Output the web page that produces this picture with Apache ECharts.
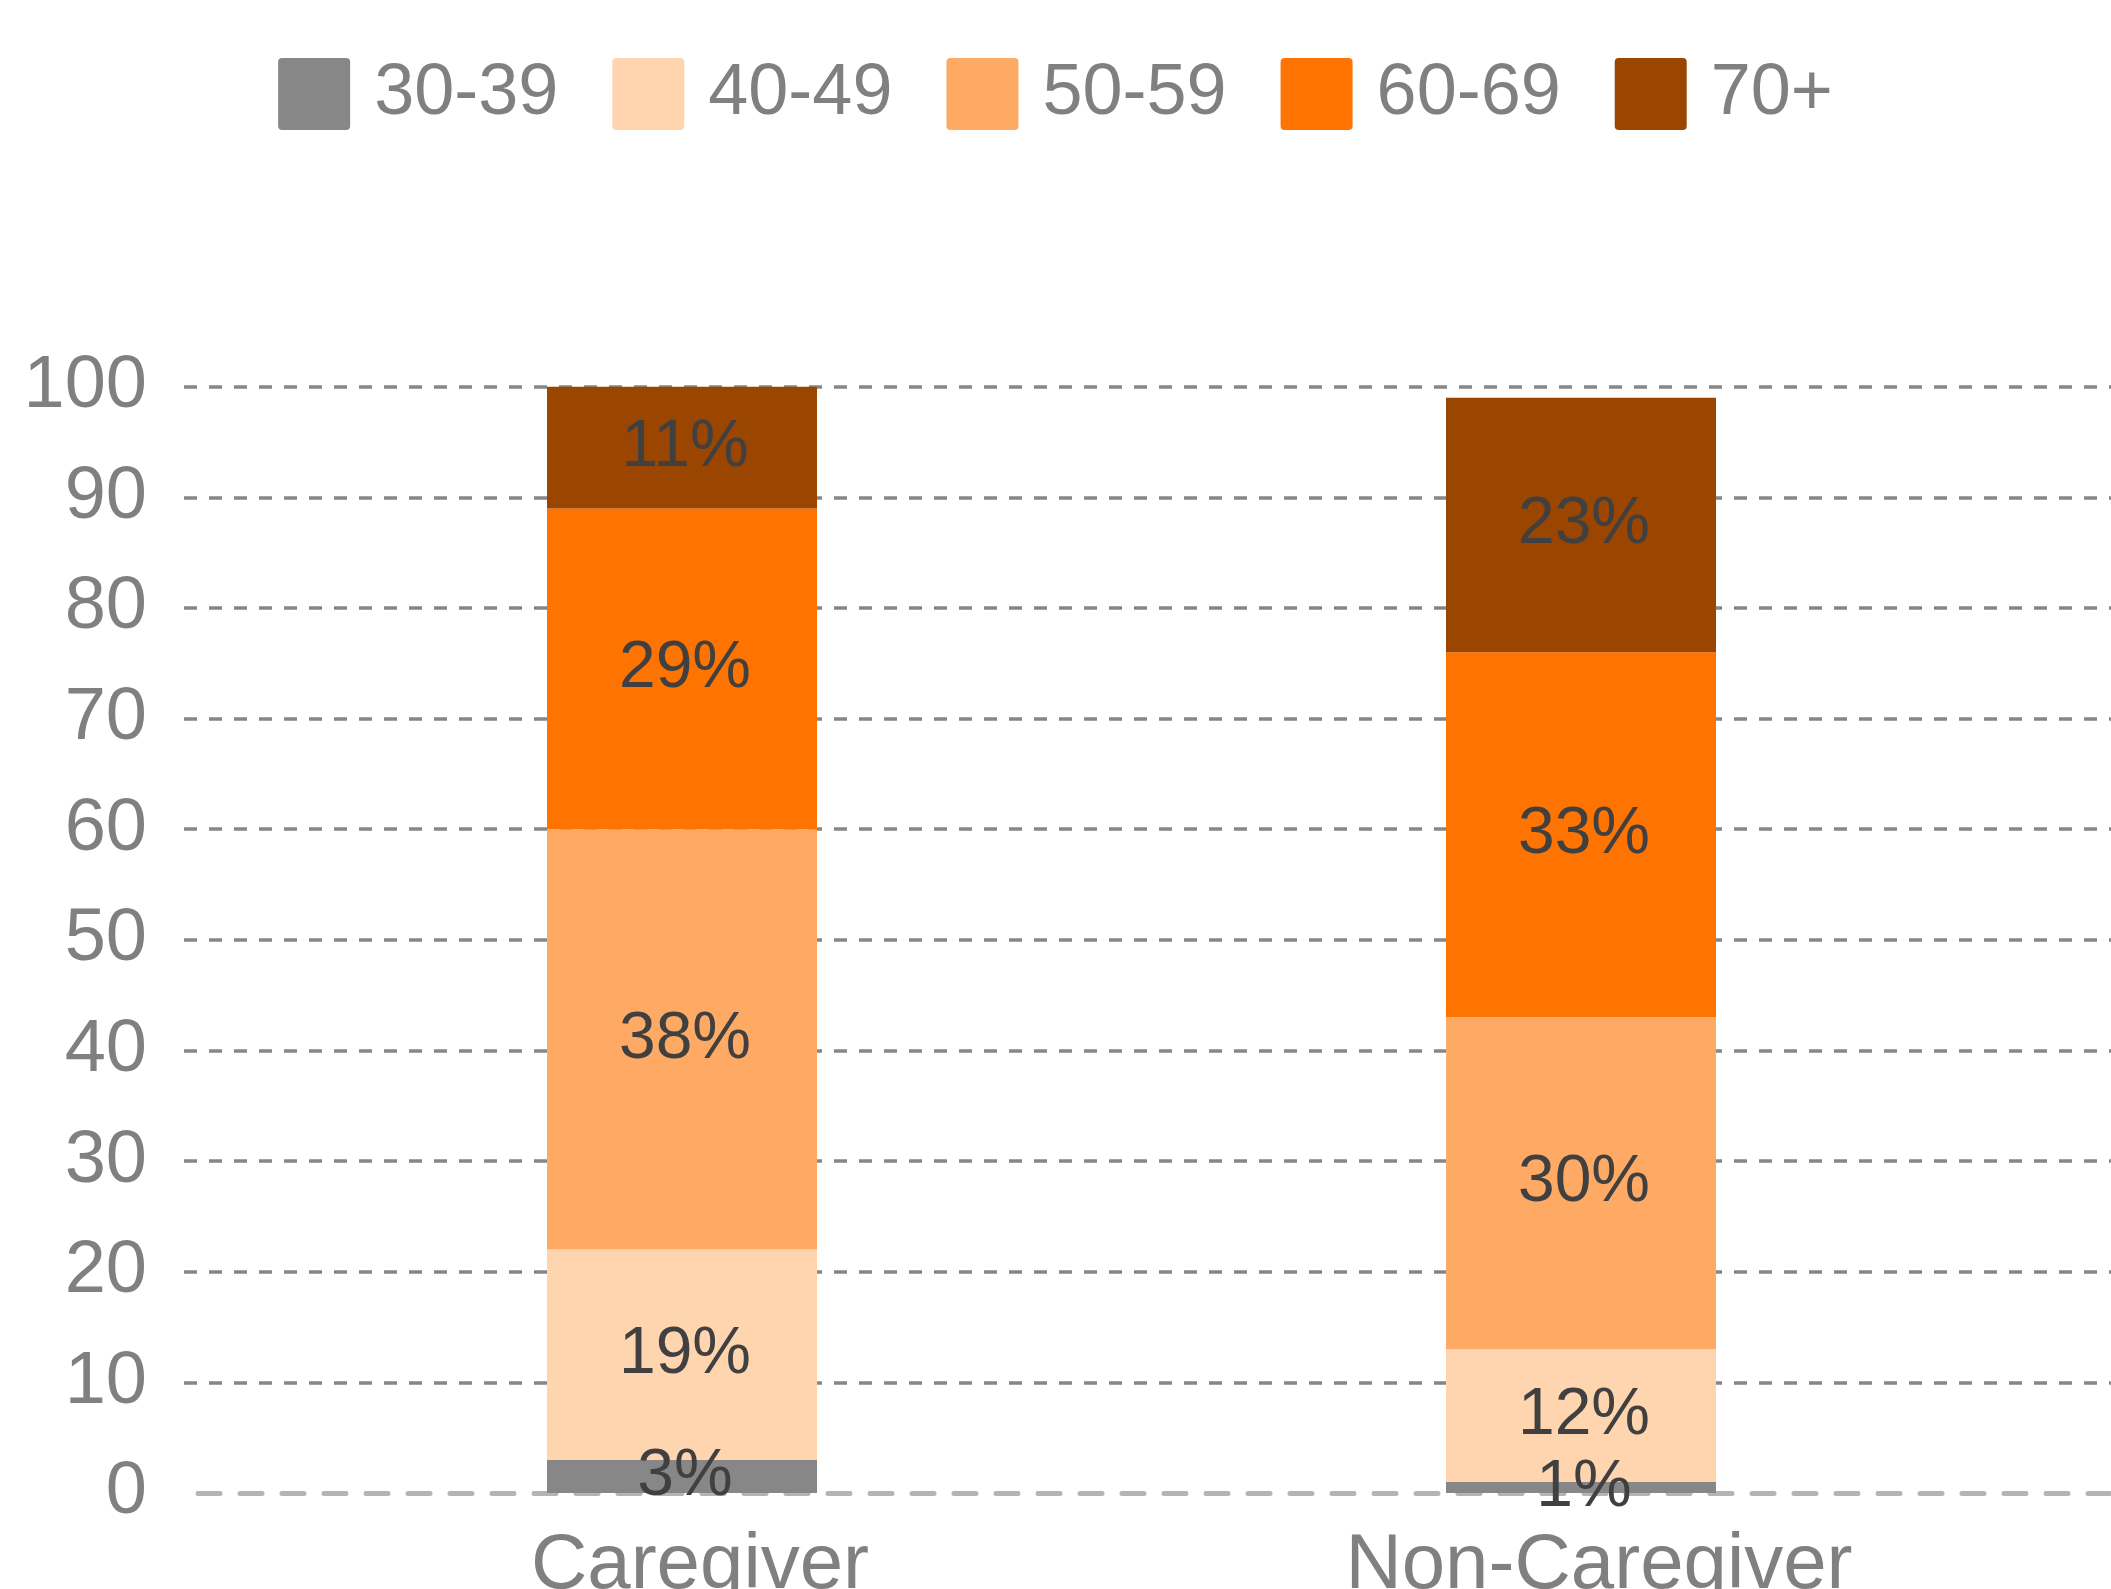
<!DOCTYPE html>
<html>
<head>
<meta charset="utf-8">
<script src="https://cdn.jsdelivr.net/npm/echarts@6/dist/echarts.min.js"></script>
<style>
  html, body { margin: 0; padding: 0; background: #fff; }
  #chart { width: 2111px; height: 1589px; }
</style>
</head>
<body>
<div id="chart"></div>
<script>
  const categories = ['Caregiver', 'Non-Caregiver'];
  const ageGroups = ['30-39', '40-49', '50-59', '60-69', '70+'];
  const age30to39 = [3, 1];
  const age40to49 = [19, 12];
  const age50to59 = [38, 30];
  const age60to69 = [29, 33];
  const age70plus = [11, 23];
  const yTicks = [0, 10, 20, 30, 40, 50, 60, 70, 80, 90, 100];

  const colors = ['#878787', '#FFD5B0', '#FFAA64', '#FF7300', '#9A4500'];
  const seriesValues = [age30to39, age40to49, age50to59, age60to69, age70plus];
  const font = '"Liberation Sans", Arial, sans-serif';

  const chart = echarts.init(document.getElementById('chart'));

  // first split line (at 0) is hidden, the baseline is drawn by the axis line instead
  const splitColors = yTicks.map((t, i) => (i === 0 ? 'rgba(0,0,0,0)' : '#878787'));

  // square with small rounded corners for the legend
  const legendIcon = 'path://M4,0 H68 A4,4 0 0 1 72,4 V68 A4,4 0 0 1 68,72 H4 A4,4 0 0 1 0,68 V4 A4,4 0 0 1 4,0 Z';

  const option = {
    animation: false,
    backgroundColor: '#ffffff',
    legend: {
      top: 53,
      left: 'center',
      data: ageGroups,
      icon: legendIcon,
      itemWidth: 72,
      itemHeight: 72,
      itemGap: 54,
      textStyle: {
        fontFamily: font,
        fontSize: 72,
        color: '#808080',
        padding: [8, 0, 0, 19]
      }
    },
    grid: [
      // bars
      { left: 232.5, right: 80.5, top: 386.7, bottom: 96, outerBoundsMode: 'none' },
      // background lines and y labels
      { left: 184, right: 0, top: 386.7, bottom: 96, outerBoundsMode: 'none' }
    ],
    xAxis: [
      {
        type: 'category',
        gridIndex: 0,
        data: categories,
        axisLine: { show: false },
        axisTick: { show: false },
        axisLabel: {
          fontFamily: font,
          fontSize: 78,
          color: '#808080',
          margin: 34,
          padding: [0, 0, 0, 36]
        }
      },
      {
        type: 'value',
        gridIndex: 1,
        min: 0,
        max: 1,
        axisLine: {
          show: true,
          lineStyle: { color: '#b4b4b4', width: 5, type: [22, 20], dashOffset: 28 }
        },
        axisTick: { show: false },
        axisLabel: { show: false },
        splitLine: { show: false }
      }
    ],
    yAxis: [
      {
        type: 'value',
        gridIndex: 0,
        min: 0,
        max: 100,
        interval: 10,
        show: false
      },
      {
        type: 'value',
        gridIndex: 1,
        min: 0,
        max: 100,
        interval: 10,
        axisLine: { show: false },
        axisTick: { show: false },
        axisLabel: {
          fontFamily: font,
          fontSize: 74,
          color: '#808080',
          margin: 37
        },
        splitLine: {
          show: true,
          lineStyle: { color: splitColors, width: 3.5, type: [13, 12] }
        }
      }
    ],
    series: ageGroups.map((name, i) => ({
      name: name,
      type: 'bar',
      stack: 'total',
      xAxisIndex: 0,
      yAxisIndex: 0,
      barWidth: 270,
      data: seriesValues[i],
      itemStyle: { color: colors[i] },
      label: {
        show: true,
        position: 'inside',
        formatter: '{c}%',
        fontFamily: font,
        fontSize: 66,
        color: '#404040',
        offset: [3, 0]
      }
    }))
  };

  chart.setOption(option);
</script>
</body>
</html>
